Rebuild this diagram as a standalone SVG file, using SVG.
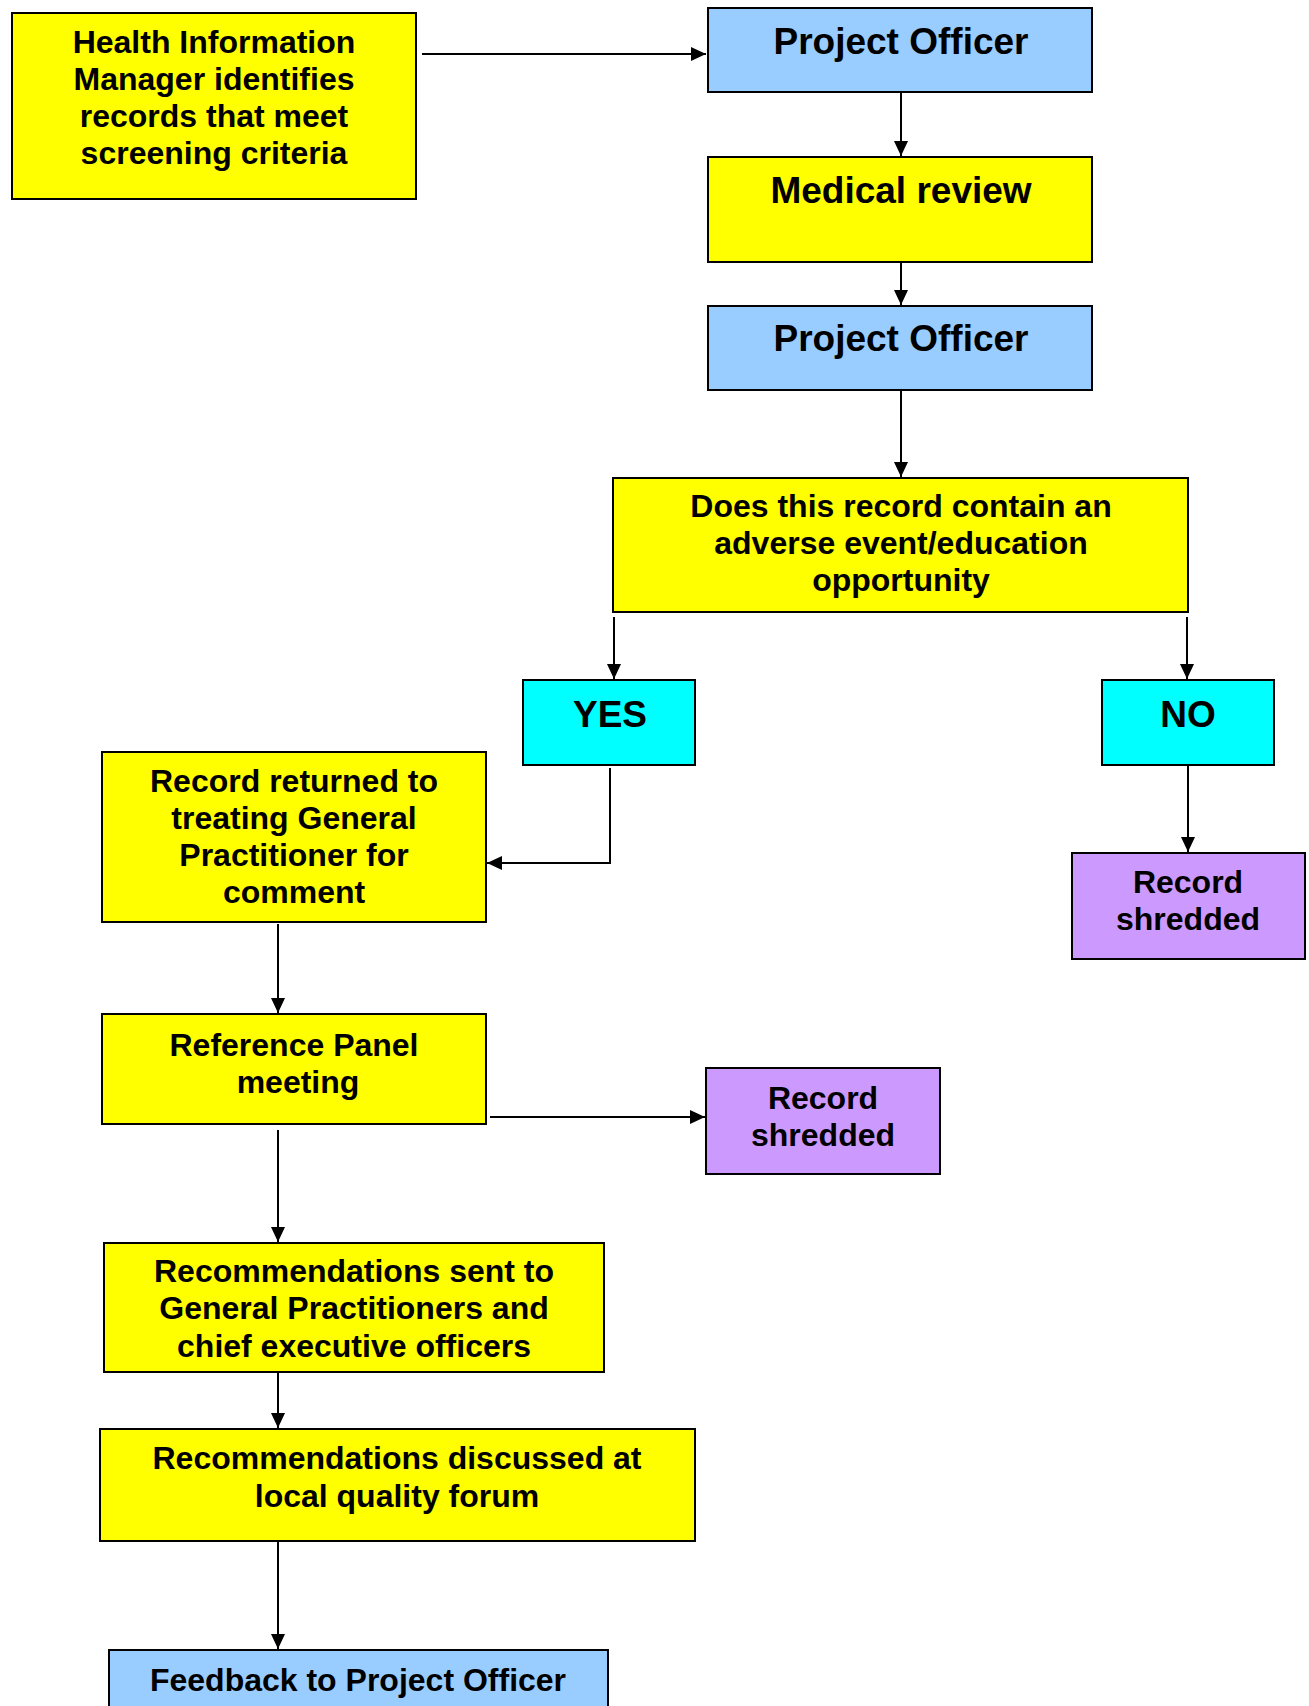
<svg xmlns="http://www.w3.org/2000/svg" width="1309" height="1706" viewBox="0 0 1309 1706">
<style>
.box{stroke:#000;stroke-width:2}
.y{fill:#FFFF00}.b{fill:#99CCFF}.c{fill:#00FFFF}.p{fill:#CC99FF}
text{font-family:"Liberation Sans",Arial,sans-serif;font-weight:bold;fill:#000;text-anchor:middle}
.t{font-size:32px}.L{font-size:37px}
.con{fill:none;stroke:#000;stroke-width:2}
</style>
<defs>
<marker id="ah" markerUnits="userSpaceOnUse" markerWidth="16" markerHeight="14" refX="15" refY="7" orient="auto">
<path d="M0,0 L15,7 L0,14 Z" fill="#000"/>
</marker>
</defs>
<rect width="1309" height="1706" fill="#fff"/>
<g id="connectors">
<line class="con" x1="422" y1="54" x2="706" y2="54" marker-end="url(#ah)"/>
<line class="con" x1="901" y1="92" x2="901" y2="156" marker-end="url(#ah)"/>
<line class="con" x1="901" y1="262" x2="901" y2="305" marker-end="url(#ah)"/>
<line class="con" x1="901" y1="390" x2="901" y2="477" marker-end="url(#ah)"/>
<line class="con" x1="614" y1="617" x2="614" y2="679" marker-end="url(#ah)"/>
<line class="con" x1="1187" y1="617" x2="1187" y2="679" marker-end="url(#ah)"/>
<polyline class="con" points="610,768 610,863 487,863" marker-end="url(#ah)"/>
<line class="con" x1="1188" y1="765" x2="1188" y2="852" marker-end="url(#ah)"/>
<line class="con" x1="278" y1="924" x2="278" y2="1013" marker-end="url(#ah)"/>
<line class="con" x1="490" y1="1117" x2="705" y2="1117" marker-end="url(#ah)"/>
<line class="con" x1="278" y1="1130" x2="278" y2="1242" marker-end="url(#ah)"/>
<line class="con" x1="278" y1="1372" x2="278" y2="1428" marker-end="url(#ah)"/>
<line class="con" x1="278" y1="1541" x2="278" y2="1649" marker-end="url(#ah)"/>
</g>
<g id="n1"><rect class="box y" x="12" y="13" width="404" height="186"/>
<text class="t" x="214" y="53">Health Information</text><text class="t" x="214" y="90">Manager identifies</text><text class="t" x="214" y="127">records that meet</text><text class="t" x="214" y="164">screening criteria</text></g>
<g id="n2"><rect class="box b" x="708" y="8" width="384" height="84"/><text class="L" x="901" y="54">Project Officer</text></g>
<g id="n3"><rect class="box y" x="708" y="157" width="384" height="105"/><text class="L" x="901" y="203">Medical review</text></g>
<g id="n4"><rect class="box b" x="708" y="306" width="384" height="84"/><text class="L" x="901" y="351">Project Officer</text></g>
<g id="n5"><rect class="box y" x="613" y="478" width="575" height="134"/>
<text class="t" x="901" y="517">Does this record contain an</text><text class="t" x="901" y="554">adverse event/education</text><text class="t" x="901" y="591">opportunity</text></g>
<g id="n6"><rect class="box c" x="523" y="680" width="172" height="85"/><text class="L" x="610" y="727">YES</text></g>
<g id="n7"><rect class="box c" x="1102" y="680" width="172" height="85"/><text class="L" x="1188" y="727">NO</text></g>
<g id="n8"><rect class="box y" x="102" y="752" width="384" height="170"/>
<text class="t" x="294" y="792">Record returned to</text><text class="t" x="294" y="829">treating General</text><text class="t" x="294" y="866">Practitioner for</text><text class="t" x="294" y="903">comment</text></g>
<g id="n9"><rect class="box p" x="1072" y="853" width="233" height="106"/>
<text class="t" x="1188" y="893">Record</text><text class="t" x="1188" y="930">shredded</text></g>
<g id="n10"><rect class="box y" x="102" y="1014" width="384" height="110"/>
<text class="t" x="294" y="1056">Reference Panel</text><text class="t" x="298" y="1093">meeting</text></g>
<g id="n11"><rect class="box p" x="706" y="1068" width="234" height="106"/>
<text class="t" x="823" y="1109">Record</text><text class="t" x="823" y="1146">shredded</text></g>
<g id="n12"><rect class="box y" x="104" y="1243" width="500" height="129"/>
<text class="t" x="354" y="1282">Recommendations sent to</text><text class="t" x="354" y="1319">General Practitioners and</text><text class="t" x="354" y="1357">chief executive officers</text></g>
<g id="n13"><rect class="box y" x="100" y="1429" width="595" height="112"/>
<text class="t" x="397" y="1469">Recommendations discussed at</text><text class="t" x="397" y="1507">local quality forum</text></g>
<g id="n14"><rect class="box b" x="109" y="1650" width="499" height="70"/>
<text class="t" x="358" y="1691">Feedback to Project Officer</text></g>
</svg>
